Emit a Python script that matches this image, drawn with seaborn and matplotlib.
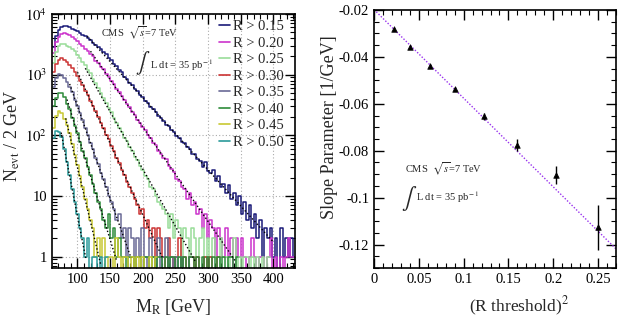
import numpy as np
import pandas as pd
import matplotlib
matplotlib.use("Agg")
import matplotlib.pyplot as plt
from matplotlib.ticker import MultipleLocator, FixedLocator, FuncFormatter, LogLocator, NullFormatter
from matplotlib.lines import Line2D
import seaborn as sns

# ---------------- data: left panel (M_R histograms, 4 GeV bins from 62 GeV, N per 2 GeV) ----
first_edge = 62
bin_width = 4
labels = ["R > 0.15", "R > 0.20", "R > 0.25", "R > 0.30",
          "R > 0.35", "R > 0.40", "R > 0.45", "R > 0.50"]
colors = ["#1a1a78", "#cc33cc", "#99dd99", "#cc3333",
          "#6a6a96", "#2e8b3a", "#c8c832", "#2a9a9a"]

counts_r015 = [2820, 4370, 5370, 6030, 6310, 6280, 6050, 5720, 5530, 5230, 4920, 4550, 4290, 3960,
               3740, 3370, 3110, 2860, 2650, 2380, 2160, 1880, 1720, 1490, 1370, 1180, 1090, 915,
               845, 740, 665, 590, 530, 462, 425, 370, 336, 298, 268, 238, 212, 190, 172, 150,
               140, 121, 114, 98, 92, 78, 76, 63, 60, 50, 49, 41, 38, 30, 36, 26, 24, 27, 18, 21,
               14, 16, 11, 15, 9, 11, 7, 10, 5, 8, 4, 7, 3, 5, 2, 4, 1, 3, 2, 3, 1, 2, 0, 3, 1,
               2, 1, 2, 1]
counts_r020 = [2240, 3390, 4150, 4700, 4780, 4690, 4450, 4190, 3860, 3570, 3210, 2970, 2660, 2470,
               2210, 2030, 1710, 1570, 1330, 1220, 1030, 930, 775, 705, 590, 525, 440, 385, 330,
               288, 245, 218, 180, 160, 135, 122, 100, 92, 74, 70, 56, 50, 42, 40, 31, 28, 25, 19,
               18, 14, 13, 9, 11, 7, 8, 5, 6, 3, 5, 2, 4, 3, 1, 3, 2, 1, 3, 1, 2, 0, 2, 1, 2, 1,
               0, 1, 2, 1, 0, 1, 1, 0, 1, 2, 0, 1, 0, 1, 0, 1, 2, 1, 1]
counts_r025 = [1580, 2400, 2960, 3230, 3170, 3010, 2890, 2610, 2420, 2120, 1880, 1600, 1430, 1180,
               1070, 860, 730, 600, 505, 415, 345, 280, 238, 192, 160, 130, 114, 90, 80, 63, 56,
               44, 39, 31, 27, 21, 19, 14, 13, 10, 8, 7, 6, 5, 3, 5, 2, 4, 3, 1, 3, 2, 1, 3, 2,
               1, 2, 3, 1, 2, 1, 2, 1, 0, 2, 1, 1, 0, 1, 2, 0, 1, 0, 1, 1, 0, 1, 0, 1, 0, 1, 0, 1]
counts_r030 = [1120, 1490, 1730, 1870, 1770, 1630, 1440, 1270, 1090, 960, 785, 670, 540, 465, 375,
               305, 248, 200, 158, 130, 102, 86, 66, 55, 42, 35, 27, 22, 17, 14, 11, 9, 7, 5, 6,
               3, 4, 2, 3, 1, 3, 2, 1, 0, 2, 1, 0, 1, 2, 0, 1, 0, 1, 1, 0, 1, 0, 0, 1, 0, 1, 0,
               0, 1]
counts_r035 = [630, 880, 1010, 985, 880, 770, 620, 515, 380, 300, 232, 178, 132, 102, 76, 60, 42,
               34, 24, 19, 14, 10, 8, 6, 4, 5, 2, 3, 1, 3, 2, 0, 2, 1, 3, 1, 0, 2, 1, 0, 2, 0, 1,
               2, 0, 1, 0, 1, 0, 1, 0, 0, 1]
counts_r040 = [300, 420, 505, 500, 425, 330, 270, 195, 145, 108, 78, 56, 42, 30, 22, 16, 11, 8, 6,
               4, 3, 5, 2, 3, 1, 2, 1, 1, 0, 1, 1, 0, 1, 1, 0, 1, 1, 0, 1, 0, 1, 1, 0, 1, 0, 1, 1,
               0, 1, 0, 1, 0, 1, 1, 0, 1, 0, 1, 0, 1, 0, 1, 0, 1, 0, 1, 0, 1, 1, 0, 1]
counts_r045 = [130, 205, 250, 232, 188, 150, 108, 72, 48, 32, 21, 14, 9, 6, 4, 3, 1, 2, 1, 2, 0, 1,
               1, 0, 2, 1, 0, 1, 1, 0, 1, 0, 1, 0, 1, 0, 0, 1, 0, 1]
counts_r050 = [90, 118, 114, 93, 60, 37, 22, 13, 8, 5, 3, 2, 1, 2, 0, 1, 1, 0, 1, 0, 1]
all_counts = [counts_r015, counts_r020, counts_r025, counts_r030,
              counts_r035, counts_r040, counts_r045, counts_r050]

# exponential fits (straight on log scale): log10 N = ref_log - dec_per_gev * (M - ref_M)
fit_lo = [115, 120, 112, 100, 88, 84, 82, 75]
fit_hi = [400, 342, 280, 230, 182, 160, 136, 113]
fit_ref_M = [200, 180, 180, 180, 140, 120, 94, 94]
fit_ref_log = [2.62, 2.45, 1.82, 1.16, 1.26, 1.33, 1.74, 1.00]
fit_dec_per_gev = [0.0119, 0.0156, 0.0189, 0.0235, 0.0305, 0.035, 0.045, 0.055]

# ---------------- data: right panel ----------------
r_threshold = [0.15, 0.20, 0.25, 0.30, 0.35, 0.40, 0.45, 0.50]
slope_param = [-0.0282, -0.0357, -0.0438, -0.0536, -0.0654, -0.0776, -0.0904, -0.1127]
slope_err = [0.0004, 0.0005, 0.0006, 0.0007, 0.0014, 0.0025, 0.0037, 0.0096]
line_intercept = -0.0198
line_slope = -0.378

# ---------------- style ----------------
sns.set_style("ticks")
plt.rcParams['font.family'] = ['Liberation Serif', 'DejaVu Serif']
plt.rcParams['mathtext.fontset'] = 'stix'
plt.rcParams['axes.unicode_minus'] = False

fig = plt.figure(figsize=(6.22, 3.19), dpi=100)
W, H = 622, 319
axL = fig.add_axes([52 / W, (H - 268) / H, (295 - 52) / W, (268 - 14) / H])
axR = fig.add_axes([374 / W, (H - 268) / H, (616 - 374) / W, (268 - 10) / H])

# ---------------- left panel ----------------
for counts, col in zip(all_counts, colors):
    n = len(counts)
    edges = first_edge + bin_width * np.arange(n + 1)
    df = pd.DataFrame({"M": edges[:-1] + bin_width / 2, "w": np.asarray(counts, float)})
    sns.histplot(data=df, x="M", weights="w", bins=[float(e) for e in edges], element="step",
                 fill=False, color=col, linewidth=1.1, ax=axL)

for lo, hi, rm, rl, d in zip(fit_lo, fit_hi, fit_ref_M, fit_ref_log, fit_dec_per_gev):
    m = np.linspace(lo, hi, 60)
    y = 10 ** (rl - d * (m - rm))
    sns.lineplot(x=m, y=y, color="black", linewidth=1.0, linestyle=(0, (1, 1.6)), ax=axL)

axL.set_yscale("log")
axL.set_xlim(61, 433)
axL.set_ylim(0.65, 1.0e4)
axL.set_xticks([100, 150, 200, 250, 300, 350, 400])
axL.xaxis.set_minor_locator(MultipleLocator(10))
axL.yaxis.set_major_locator(FixedLocator([1, 10, 100, 1000, 10000]))
axL.yaxis.set_minor_locator(LogLocator(base=10, subs=np.arange(2, 10)))
axL.yaxis.set_minor_formatter(NullFormatter())
ylab = {1: "1", 10: "10", 100: "$10^{2}$", 1000: "$10^{3}$", 10000: "$10^{4}$"}
axL.yaxis.set_major_formatter(FuncFormatter(lambda v, p: ylab.get(int(round(v)), "")))
axL.grid(True, which="major", linestyle=(0, (1, 2)), color="#aaaaaa", linewidth=0.8)
axL.set_xlabel("M$_{\\rm R}$ [GeV]", fontsize=13)
axL.set_ylabel("N$_{\\rm evt}$ / 2 GeV", fontsize=13)
axL.xaxis.set_label_coords(0.5, -0.115)
axL.yaxis.set_label_coords(-0.125, 0.52)

handles = [Line2D([0], [0], color=c, lw=1.2) for c in colors]
axL.legend(handles, labels, loc="upper right", bbox_to_anchor=(0.955, 0.976), frameon=False,
           fontsize=10.5, handlelength=0.75, handletextpad=0.2, labelspacing=0.225,
           borderaxespad=0.0, borderpad=0.0)

axL.text(0.36, 0.925, "CMS  $\\sqrt{s}$=7 TeV", transform=axL.transAxes, fontsize=7.5,
         ha="center", va="center")
axL.text(0.375, 0.805, "$\\int$", transform=axL.transAxes, fontsize=15, ha="center", va="center")
axL.text(0.405, 0.80, "L dt = 35 pb$^{\\rm -1}$", transform=axL.transAxes, fontsize=7.5,
         ha="left", va="center")

# ---------------- right panel ----------------
x_sq = [r * r for r in r_threshold]
xs = np.array([0.0, 0.27])
sns.lineplot(x=xs, y=line_intercept + line_slope * xs, color="#9933ee", linewidth=1.0,
             linestyle=(0, (1, 1.3)), ax=axR)
axR.errorbar(x_sq, slope_param, yerr=slope_err, fmt="none", ecolor="black", elinewidth=1.0,
             capsize=0)
sns.scatterplot(x=x_sq, y=slope_param, marker="^", color="black", s=16, edgecolor="black",
                linewidth=0.5, ax=axR, zorder=5)
axR.set_xlim(0, 0.27)
axR.set_ylim(-0.13, -0.02)
axR.xaxis.set_major_locator(MultipleLocator(0.05))
axR.xaxis.set_minor_locator(MultipleLocator(0.01))
axR.yaxis.set_major_locator(MultipleLocator(0.02))
axR.yaxis.set_minor_locator(MultipleLocator(0.005))
axR.xaxis.set_major_formatter(FuncFormatter(lambda v, p: "%g" % round(v, 3)))
axR.yaxis.set_major_formatter(FuncFormatter(lambda v, p: "%g" % round(v, 3)))
axR.set_xlabel("(R threshold)$^{2}$", fontsize=12.5)
axR.set_ylabel("Slope Parameter [1/GeV]", fontsize=13)
axR.xaxis.set_label_coords(0.60, -0.105)
axR.yaxis.set_label_coords(-0.15, 0.545)
axR.text(0.13, 0.385, "CMS  $\\sqrt{s}$=7 TeV", transform=axR.transAxes, fontsize=7.5,
         ha="left", va="center")
axR.text(0.145, 0.27, "$\\int$", transform=axR.transAxes, fontsize=16, ha="center", va="center")
axR.text(0.175, 0.275, "L dt = 35 pb$^{\\rm -1}$", transform=axR.transAxes, fontsize=7.5,
         ha="left", va="center")

for ax in (axL, axR):
    for s in ax.spines.values():
        s.set_linewidth(1.2)
        s.set_color("black")
    ax.tick_params(which="both", direction="in", top=True, right=True, labelsize=10.5,
                   colors="black")
    ax.tick_params(which="major", length=7, width=1.0)
    ax.tick_params(which="minor", length=3.5, width=0.8)

fig.savefig("out.png", dpi=100)
